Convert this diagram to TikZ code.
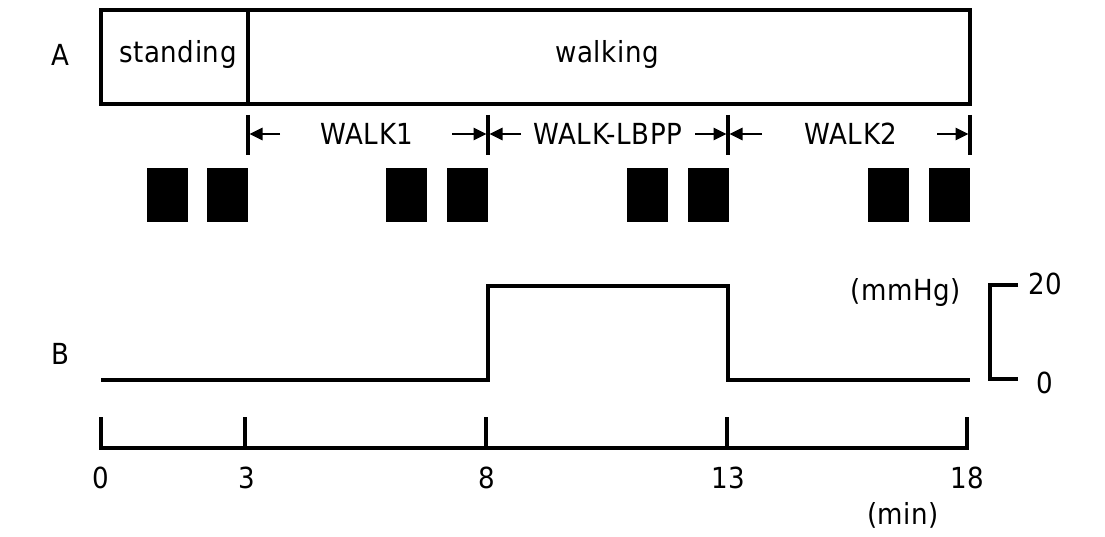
\documentclass[tikz,border=0pt]{standalone}
\usepackage{fontspec}
\setmainfont{DejaVu Sans Condensed}[LetterSpace=2]
\usetikzlibrary{arrows.meta}
\begin{document}
\begin{tikzpicture}[x=1pt,y=-1pt,
  lbl/.style={font=\fontsize{29}{29}\selectfont, inner sep=0pt},
  boxpart/.style={draw, line width=3.6pt, minimum height=94pt, inner sep=0pt},
  blk/.style={fill=black, minimum width=41pt, minimum height=54pt, inner sep=0pt},
  tk/.style={line width=3.2pt},
  ln/.style={line width=3.3pt, line cap=butt, line join=miter},
  arr/.style={line width=2.6pt, -{Triangle[length=13pt,width=12pt]}}]
\useasboundingbox (0,0) rectangle (1105,537);
% A
\node[lbl] (labA) at (60,55) {A};
\node[boxpart, minimum width=147pt] (stand) at (174.5,57) {};
\node[boxpart, minimum width=722pt] (walk) at (609,57) {};
\node[lbl] (tstand) at (178,55) {standing};
\node[lbl] (twalk) at (607,55) {walking};
% phase markers
\coordinate (m1t) at (248,115); \coordinate (m1b) at (248,155);
\coordinate (m2t) at (488,115); \coordinate (m2b) at (488,155);
\coordinate (m3t) at (728,115); \coordinate (m3b) at (728,155);
\coordinate (m4t) at (970,115); \coordinate (m4b) at (970,155);
\draw[tk] (m1t) -- (m1b);
\draw[tk] (m2t) -- (m2b);
\draw[tk] (m3t) -- (m3b);
\draw[tk] (m4t) -- (m4b);
\coordinate (a1s) at (280,134); \coordinate (a1e) at (249.5,134);
\coordinate (a2s) at (452,134); \coordinate (a2e) at (486.5,134);
\coordinate (a3s) at (521,134); \coordinate (a3e) at (489.5,134);
\coordinate (a4s) at (695,134); \coordinate (a4e) at (726.5,134);
\coordinate (a5s) at (762,134); \coordinate (a5e) at (729.5,134);
\coordinate (a6s) at (937,134); \coordinate (a6e) at (968.5,134);
\draw[arr] (a1s) -- (a1e);
\draw[arr] (a2s) -- (a2e);
\draw[arr] (a3s) -- (a3e);
\draw[arr] (a4s) -- (a4e);
\draw[arr] (a5s) -- (a5e);
\draw[arr] (a6s) -- (a6e);
\node[lbl] (w1) at (367,134) {WALK1};
\node[lbl] (wl) at (608,134) {WALK-LBPP};
\node[lbl] (w2) at (851,134) {WALK2};
% blocks
\node[blk] (b1) at (167.5,195) {};
\node[blk] (b2) at (227.5,195) {};
\node[blk] (b3) at (406.5,195) {};
\node[blk] (b4) at (467.5,195) {};
\node[blk] (b5) at (647.5,195) {};
\node[blk] (b6) at (708,195) {};
\node[blk] (b7) at (888.5,195) {};
\node[blk] (b8) at (949.5,195) {};
% B
\node[lbl] (labB) at (60,354) {B};
\coordinate (p0) at (101,380);
\coordinate (p1) at (488,380);
\coordinate (p2) at (488,286);
\coordinate (p3) at (728,286);
\coordinate (p4) at (728,380);
\coordinate (p5) at (970,380);
\draw[ln] (p0) -- (p1) -- (p2) -- (p3) -- (p4) -- (p5);
\coordinate (s1) at (1018,285);
\coordinate (s2) at (990,285);
\coordinate (s3) at (990,379);
\coordinate (s4) at (1018,379);
\draw[ln] (s1) -- (s2) -- (s3) -- (s4);
\node[lbl] (v20) at (1045,284) {20};
\node[lbl] (v0) at (1045,383) {0};
\node[lbl] (mmhg) at (906,293) {(mmHg)};
% time axis
\coordinate (t0) at (101,448); \coordinate (t0u) at (101,417);
\coordinate (t3) at (245,448); \coordinate (t3u) at (245,417);
\coordinate (t8) at (486,448); \coordinate (t8u) at (486,417);
\coordinate (t13) at (727,448); \coordinate (t13u) at (727,417);
\coordinate (t18) at (967,448); \coordinate (t18u) at (967,417);
\draw[ln] (t0u) -- (t0) -- (t18) -- (t18u);
\draw[ln] (t3u) -- (t3);
\draw[ln] (t8u) -- (t8);
\draw[ln] (t13u) -- (t13);
\node[lbl] (n0) at (101,478) {0};
\node[lbl] (n3) at (247,478) {3};
\node[lbl] (n8) at (487,478) {8};
\node[lbl] (n13) at (728,478) {13};
\node[lbl] (n18) at (967,478) {18};
\node[lbl] (nmin) at (903,515) {(min)};
\end{tikzpicture}
\end{document}
